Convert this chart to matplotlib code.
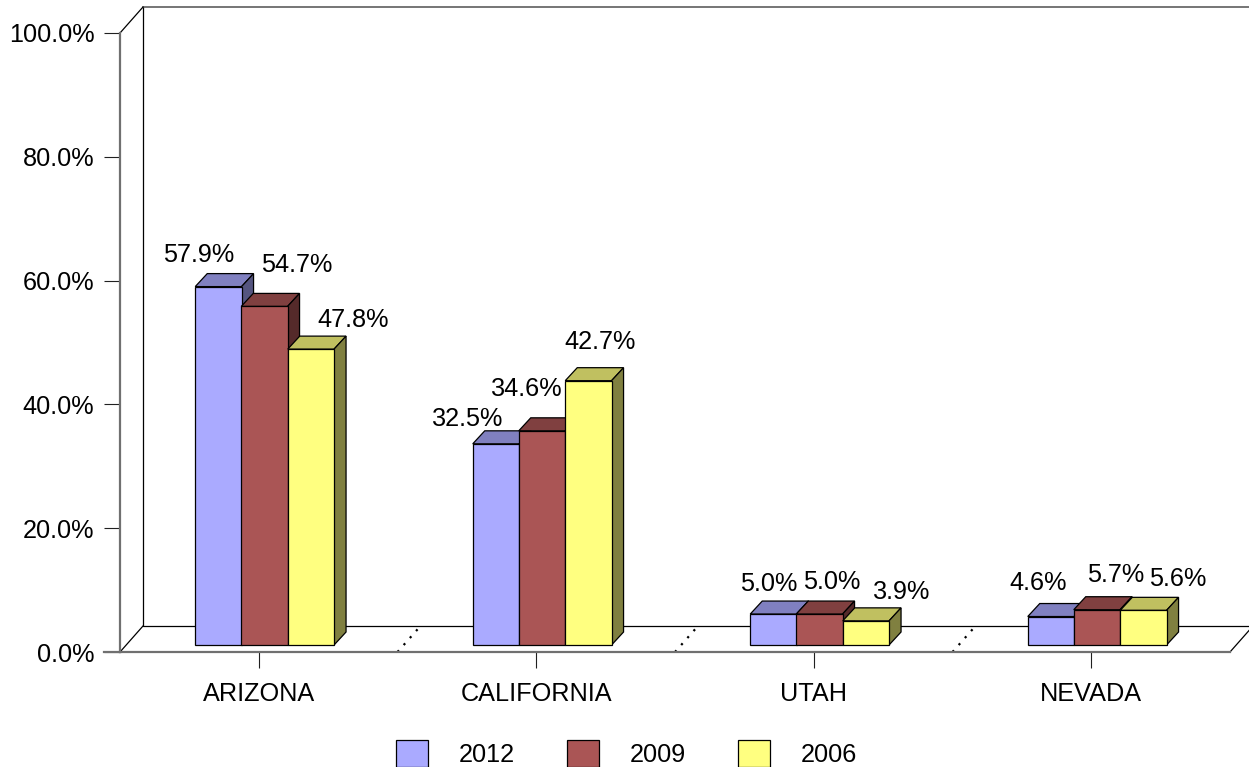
import numpy as np
import matplotlib
matplotlib.use("Agg")
import matplotlib.pyplot as plt
from matplotlib.patches import Patch, Polygon

states = ["ARIZONA", "CALIFORNIA", "UTAH", "NEVADA"]
years = ["2012", "2009", "2006"]
v2012 = [57.9, 32.5, 5.0, 4.6]
v2009 = [54.7, 34.6, 5.0, 5.7]
v2006 = [47.8, 42.7, 3.9, 5.6]
yticks = [0, 20, 40, 60, 80, 100]

# label nudges from the top centre of each bar, pixels
nudge2012 = [(-20, 32), (-28, 25), (-5, 30), (-13, 34)]
nudge2009 = [(32, 41), (-15, 42), (12, 32), (19, 35)]
nudge2006 = [(42, 29), (12, 39), (36, 29), (34, 31)]

front = ["#AAAAFF", "#AA5555", "#FFFF80"]
top = ["#8080C0", "#804040", "#C0C060"]
side = ["#555580", "#552A2A", "#808040"]

plt.rcParams['font.family'] = ['Liberation Sans', 'DejaVu Sans']
plt.rcParams['font.size'] = 18.2

W, H = 1249, 767
fig = plt.figure(figsize=(W/100, H/100), dpi=100)
ax = fig.add_axes([120/W, 1-652/H, 1110/W, 619/H])
ax.set_xlim(-0.5, 3.5)
ax.set_ylim(0, 100)

# pixels to data units
px = 4/1110
py = 100/619

# axes spines and ticks
for s in ['top', 'right']:
    ax.spines[s].set_visible(False)
for s in ['left', 'bottom']:
    ax.spines[s].set_color('#707070')
    ax.spines[s].set_linewidth(1.6)
ax.set_xticks(range(4))
ax.set_xticklabels(states)
ax.set_yticks(yticks)
ax.set_yticklabels(["%.1f%%" % t for t in yticks])
ax.tick_params(axis='y', length=11.5, width=0.8, pad=7, color='#202020', labelcolor='black')
ax.tick_params(axis='x', length=11.5, width=0.8, pad=10, color='#202020', labelcolor='black')
ax.patch.set_visible(False)

# back wall and floor
dx = 23*px
dy = 26*py
lk = dict(color='black', lw=0.9, clip_on=False, zorder=1)
ax.plot([-0.5+dx, -0.5+dx, 3.5+dx], [100+dy, dy, dy], **lk)
ax.plot([-0.5+dx, 3.5+dx], [100+dy, 100+dy], color='#505050', lw=1.1, clip_on=False, zorder=1)
ax.plot([-0.5, -0.5+dx], [100, 100+dy], **lk)
ax.plot([-0.5, -0.5+dx], [0, dy], **lk)
ax.plot([3.5, 3.5+dx], [0, dy], **lk)
for b in [0.5, 1.5, 2.5]:
    ax.plot([b, b+dx], [0, dy], color='black', lw=1.6, ls=(0, (1, 3.2)), clip_on=False, zorder=1)

# bars, front faces with ax.bar, the depth drawn as polygons
width = 46.3*px
ddx = 12*px
ddy = 13*py
base = 7*py
starts = np.array([-63.5, -17.5, 29])*px

for i, (vals, nudge) in enumerate(zip([v2012, v2009, v2006], [nudge2012, nudge2009, nudge2006])):
    for j, v in enumerate(vals):
        x0 = j + starts[i]
        x1 = x0 + width
        t = base + v
        z = 3 + j*3 + i*3
        ax.add_patch(Polygon([(x0, t), (x1, t), (x1+ddx, t+ddy), (x0+ddx, t+ddy)], closed=True,
                             fc=top[i], ec='black', lw=0.9, clip_on=False, zorder=z))
        ax.add_patch(Polygon([(x1, base), (x1+ddx, base+ddy), (x1+ddx, t+ddy), (x1, t)], closed=True,
                             fc=side[i], ec='black', lw=0.9, clip_on=False, zorder=z))
        ax.bar(x0, v, width, bottom=base, align='edge', color=front[i], edgecolor='black',
               linewidth=0.9, clip_on=False, zorder=z+1)
        ax.annotate("%.1f%%" % v, ((x0+x1)/2, t), xytext=(nudge[j][0]*0.72, nudge[j][1]*0.72),
                    textcoords='offset points', ha='center', va='center', color='black',
                    annotation_clip=False, zorder=40)

# small stub of the floor line to the left of the y axis
ax.plot([-0.5-16*px, -0.5], [0, 0], color='#707070', lw=1.6, clip_on=False)

handles = [Patch(fc=front[i], ec='black', lw=0.9) for i in range(3)]
ax.legend(handles, years, ncol=3, frameon=False, loc='lower left',
          bbox_to_anchor=(396/W, -0.0005), bbox_transform=fig.transFigure,
          borderaxespad=0, borderpad=0, handlelength=1.26, handleheight=1.26,
          handletextpad=1.22, columnspacing=2.06, fontsize=18.2)

fig.savefig("out.png", dpi=100)
